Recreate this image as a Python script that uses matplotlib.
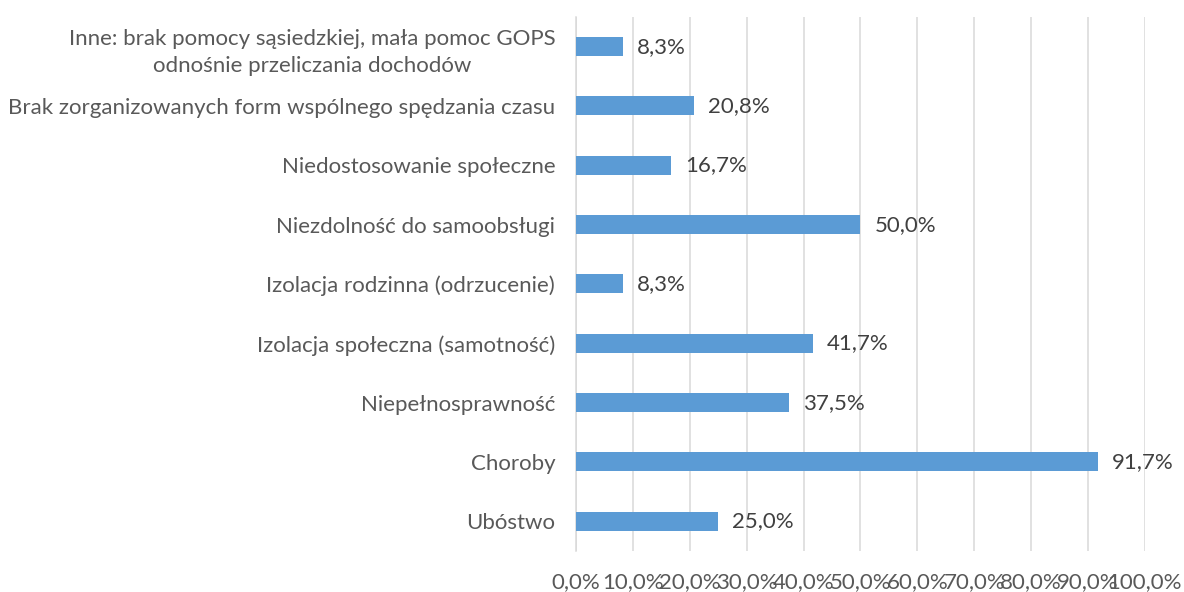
import matplotlib
matplotlib.use("Agg")
import matplotlib.pyplot as plt

# categories from bottom to top, as in the chart
categories = [
    "Ubóstwo",
    "Choroby",
    "Niepełnosprawność",
    "Izolacja społeczna (samotność)",
    "Izolacja rodzinna (odrzucenie)",
    "Niezdolność do samoobsługi",
    "Niedostosowanie społeczne",
    "Brak zorganizowanych form wspólnego spędzania czasu",
    "Inne: brak pomocy sąsiedzkiej, mała pomoc GOPS\nodnośnie przeliczania dochodów",
]
values = [25.0, 91.7, 37.5, 41.7, 8.3, 50.0, 16.7, 20.8, 8.3]
xticks = [0, 10, 20, 30, 40, 50, 60, 70, 80, 90, 100]


def pct(v):
    return f"{v:.1f}".replace(".", ",") + "%"


plt.rcParams["font.family"] = ["Lato", "DejaVu Sans"]

fig = plt.figure(figsize=(11.84, 5.92), dpi=100)
ax = fig.add_axes([0.4865, 0.0693, 0.967 - 0.4865, 0.9713 - 0.0693])

pos = list(range(len(categories)))
ax.barh(pos, values, height=0.32, color="#5B9BD5", zorder=3)

# data labels to the right of each bar
for p, v in zip(pos, values):
    ax.annotate(pct(v), (v, p), xytext=(10, 0), textcoords="offset points",
                va="center", ha="left", fontsize=16, color="#404040")

ax.set_xlim(0, 100)
ax.set_ylim(-0.5, len(categories) - 0.5)
ax.set_xticks(xticks)
ax.set_xticklabels([pct(t) for t in xticks], fontsize=16, color="#595959")
ax.set_yticks(pos)
ax.set_yticklabels(categories, fontsize=16, color="#595959")
for t in ax.get_yticklabels():
    t.set_multialignment("center")
    t.set_linespacing(1.45)

ax.xaxis.grid(True, color="#D9D9D9", linewidth=1.1, zorder=0)
ax.tick_params(axis="x", length=0, pad=15)
ax.tick_params(axis="y", length=0, pad=15)
for s in ["top", "right", "bottom"]:
    ax.spines[s].set_visible(False)
ax.spines["left"].set_color("#D9D9D9")
ax.spines["left"].set_linewidth(1.1)

fig.savefig("out.png", dpi=100)
